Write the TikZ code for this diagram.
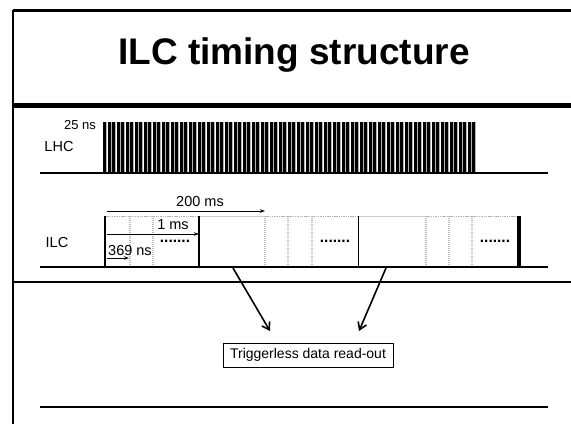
\documentclass[tikz,border=0pt]{standalone}
\usepackage{fontspec}
\setmainfont{Liberation Sans}
\usepackage{tikz}
\usetikzlibrary{arrows.meta}

\begin{document}
\begin{tikzpicture}[x=1pt,y=-1pt,
  lbl/.style={font=\fontsize{14.5}{16}\selectfont, inner sep=0pt},
  small/.style={font=\fontsize{13}{15}\selectfont, inner sep=0pt},
  span/.style={-{Stealth[length=5pt,width=3.5pt]}, line width=0.8pt},
  grid/.style={gray!55, line width=1.6pt, dash pattern=on 1pt off 1pt},
  rim/.style={gray!60, line width=1pt, dash pattern=on 1.5pt off 0.8pt},
  dots/.style={font=\fontsize{15.5}{15.5}\bfseries, inner sep=0pt},
  bigarrow/.style={-{Straight Barb[length=7pt,width=9pt]}, line width=1.6pt}]
  \useasboundingbox (0,0) rectangle (571,424);

  % frame and separators
  \draw[line width=3pt] (13,10) -- (571,10);
  \draw[line width=2pt] (13,10) -- (13,424);
  \draw[line width=5pt] (13,105) -- (571,105);
  \draw[line width=1.8pt] (13,282) -- (571,282);
  \node[font=\fontsize{37}{44}\selectfont\bfseries] (title) at (294,55) {ILC timing structure};

  % LHC bunches
  \node[small] (lhcgap) at (80,125) {25 ns};
  \node[lbl] (lhc) at (59,147) {LHC};
  \foreach \i in {0,...,82} {
    \fill (103+4.5*\i,122) rectangle ++(3,51);
    \draw[gray!60, line width=0.9pt] (106.5+4.5*\i,122) -- ++(0,51);
  }
  \draw[line width=2pt] (40,173) -- (548,173);

  % ILC bunch trains
  \node[lbl] (ilc) at (57,243) {ILC};
  \draw[rim] (105,216) -- (199,216);
  \draw[rim] (265,216) -- (358,216);
  \draw[rim] (426,216) -- (519,216);
  \draw[gray!40, line width=0.8pt] (199,216) -- (265,216) (358,216) -- (426,216);
  \foreach \x in {130,153,265,288,312,426,449,472}
    \draw[grid] (\x,216) -- (\x,267);
  \draw[line width=1.4pt] (105,216) -- (105,267);
  \draw[line width=1.6pt] (199,216) -- (199,267);
  \draw[line width=1pt] (358,216) -- (358,267);
  \draw[line width=3.5pt] (519,216) -- (519,267);
  \draw[line width=2pt] (40,267) -- (548,267);

  \node[dots] (more1) at (175,241) {.......};
  \node[dots] (more2) at (335,241) {.......};
  \node[dots] (more3) at (495,241) {.......};

  % time spans
  \coordinate (t0) at (107,211);
  \coordinate (t1) at (265,211);
  \draw[span] (t0) -- (t1);
  \node[lbl] (train) at (200,202) {200 ms};
  \coordinate (p0) at (107,234);
  \coordinate (p1) at (199,234);
  \draw[span] (p0) -- (p1);
  \node[lbl] (pulse) at (173,225) {1 ms};
  \coordinate (b0) at (107,258);
  \coordinate (b1) at (129,258);
  \draw[span] (b0) -- (b1);
  \node[lbl] (bunch) at (130,251) {369 ns};

  % read-out in the gaps
  \node[draw, line width=0.8pt, lbl, font=\fontsize{14}{16}\selectfont,
    minimum width=170pt, minimum height=24pt]
    (readout) at (308,355) {Triggerless data read-out};
  \coordinate (gap1) at (233,268);
  \coordinate (gap2) at (386,268);
  \coordinate (in1) at (270,331);
  \coordinate (in2) at (359,331);
  \draw[bigarrow] (gap1) -- (in1);
  \draw[bigarrow] (gap2) -- (in2);

  \draw[line width=1.8pt] (40,407) -- (548,407);
\end{tikzpicture}
\end{document}
